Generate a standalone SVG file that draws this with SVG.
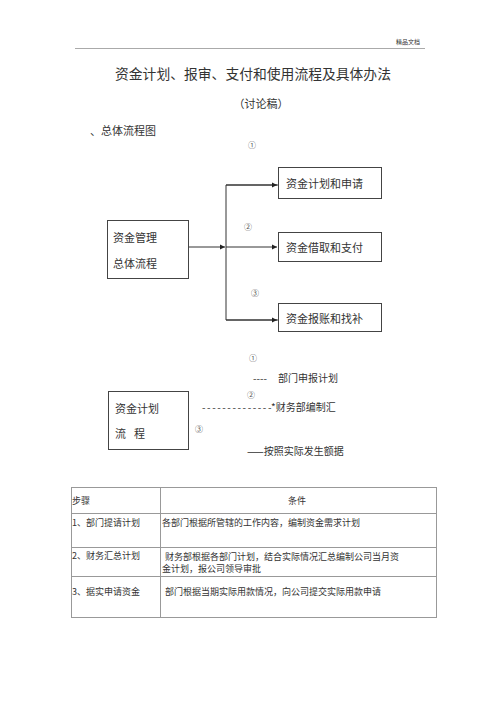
<svg xmlns="http://www.w3.org/2000/svg" width="500" height="708" viewBox="0 0 500 708">
<style>
text{font-family:"Noto Sans CJK SC","Noto Sans",sans-serif;fill:#333;dominant-baseline:central}
.box{fill:#fff;stroke:#444;stroke-width:1}
.ln{stroke:#333;stroke-width:1;fill:none}
.tb{stroke:#999;stroke-width:1;fill:none}
.n{font-size:11px}
.c{font-size:8px;fill:#555}
.s{font-size:10px}
.t{font-size:9px}
</style>
<defs>
<marker id="ah" markerWidth="6" markerHeight="6" refX="5" refY="3" orient="auto" markerUnits="userSpaceOnUse">
<path d="M0,0.5 L5,3 L0,5.5 Z" fill="#222"/>
</marker>
</defs>
<rect width="500" height="708" fill="#fff"/>
<g id="header">
<text x="408" y="41" font-size="6" text-anchor="middle" fill="#555">精品文档</text>
<line x1="75" y1="48.5" x2="425" y2="48.5" stroke="#aaa" stroke-width="1"/>
</g>
<g id="title">
<text x="253" y="73" font-size="13.8" text-anchor="middle">资金计划、报审、支付和使用流程及具体办法</text>
<text x="261" y="103" font-size="11" text-anchor="middle">（讨论稿）</text>
<text x="90" y="130" font-size="11">、总体流程图</text>
</g>
<g id="connectors">
<line class="ln" x1="189" y1="247" x2="225" y2="247" marker-end="url(#ah)"/>
<polyline class="ln" points="278,185 226,185 226,320 278,320"/>
<line class="ln" x1="226" y1="185" x2="277" y2="185" marker-end="url(#ah)"/>
<line class="ln" x1="226" y1="247" x2="277" y2="247" marker-end="url(#ah)"/>
<line class="ln" x1="226" y1="320" x2="277" y2="320" marker-end="url(#ah)"/>
<text class="c" x="252" y="144" text-anchor="middle">①</text>
<text class="c" x="248" y="226" text-anchor="middle">②</text>
<text class="c" x="255" y="292" text-anchor="middle">③</text>
</g>
<g id="node-main">
<rect class="box" x="107.5" y="220.5" width="81" height="58"/>
<text class="n" x="113" y="237">资金管理</text>
<text class="n" x="113" y="263">总体流程</text>
</g>
<g id="node-plan">
<rect class="box" x="278.5" y="167.5" width="103" height="31"/>
<text class="n" x="286" y="183">资金计划和申请</text>
</g>
<g id="node-pay">
<rect class="box" x="278.5" y="232.5" width="103" height="29"/>
<text class="n" x="286" y="247">资金借取和支付</text>
</g>
<g id="node-reimb">
<rect class="box" x="278.5" y="303.5" width="103" height="28" stroke-width="1.2"/>
<text class="n" x="286" y="318">资金报账和找补</text>
</g>
<g id="node-fundplan">
<rect class="box" x="108.5" y="391.5" width="80" height="58"/>
<text class="n" x="115" y="408">资金计划</text>
<text class="n" x="115" y="433">流<tspan x="134">程</tspan></text>
</g>
<g id="fundplan-labels">
<text class="c" x="253" y="357" text-anchor="middle">①</text>
<text class="s" x="253" y="377">----<tspan x="278">部门申报计划</tspan></text>
<text class="c" x="251" y="394" text-anchor="middle">②</text>
<text class="s" x="202" y="406"><tspan letter-spacing="1.6">--------------</tspan><tspan x="271">*财务部编制汇</tspan></text>
<text class="c" x="199" y="428" text-anchor="middle">③</text>
<text class="s" x="247" y="450">——按照实际发生额据</text>
</g>
<g id="table">
<rect class="tb" x="71.5" y="487.5" width="365" height="130"/>
<line class="tb" x1="71.5" y1="513.5" x2="436.5" y2="513.5"/>
<line class="tb" x1="71.5" y1="547.5" x2="436.5" y2="547.5"/>
<line class="tb" x1="71.5" y1="576.5" x2="436.5" y2="576.5"/>
<line class="tb" x1="160.5" y1="487.5" x2="160.5" y2="617.5"/>
<text class="t" x="72" y="500">步骤</text>
<text class="t" x="297" y="500" text-anchor="middle">条件</text>
<text class="t" x="72" y="522">1、部门提请计划</text>
<text class="t" x="162" y="522">各部门根据所管辖的工作内容，编制资金需求计划</text>
<text class="t" x="72" y="555">2、财务汇总计划</text>
<text class="t" x="165" y="556">财务部根据各部门计划，结合实际情况汇总编制公司当月资</text>
<text class="t" x="162" y="568">金计划，报公司领导审批</text>
<text class="t" x="72" y="591">3、据实申请资金</text>
<text class="t" x="165" y="591">部门根据当期实际用款情况，向公司提交实际用款申请</text>
</g>
</svg>
